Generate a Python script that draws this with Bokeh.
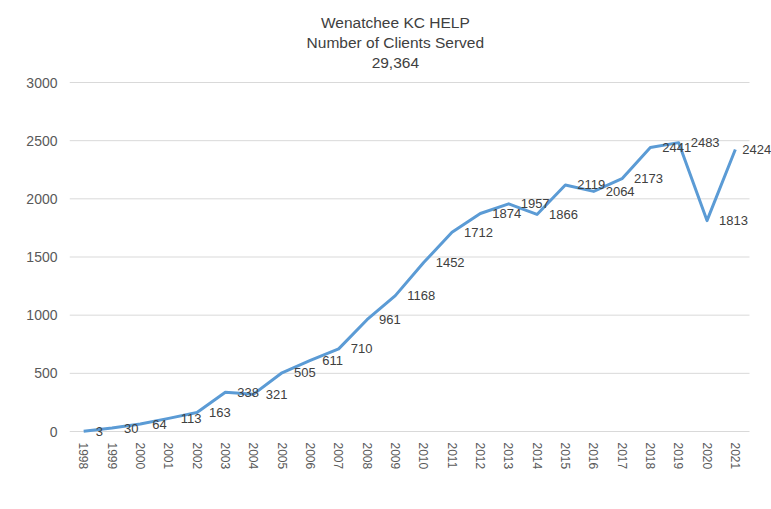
from bokeh.plotting import figure
from bokeh.models import Range1d, FixedTicker, Label, ColumnDataSource
from bokeh.embed import file_html
from bokeh.resources import INLINE
from bokeh.core.properties import value

years = ["1998", "1999", "2000", "2001", "2002", "2003", "2004", "2005", "2006", "2007",
         "2008", "2009", "2010", "2011", "2012", "2013", "2014", "2015", "2016", "2017",
         "2018", "2019", "2020", "2021"]
clients = [3, 30, 64, 113, 163, 338, 321, 505, 611, 710,
           961, 1168, 1452, 1712, 1874, 1957, 1866, 2119, 2064, 2173,
           2441, 2483, 1813, 2424]
y_ticks = [0, 500, 1000, 1500, 2000, 2500, 3000]
title_lines = ["Wenatchee KC HELP", "Number of Clients Served", "29,364"]

FONT = "Liberation Sans"
n = len(years)
idx = list(range(n))
# label offsets (styling): last label pulled in slightly so it stays on the page
offsets = [12] * (n - 1) + [7]
src = ColumnDataSource(dict(x=idx, y=clients, lab=[str(v) for v in clients], off=offsets))

# frame: left 69px, right 771px, top 0px, bottom 440px
px_per_cat = 680 / n            # categories span 69..749
px_per_unit = 349 / 3000        # 0 at y=431, 3000 at y=82
x_end = -0.5 + (771 - 69) / px_per_cat
y_end = 3000 + 82 / px_per_unit
y_start = -(440 - 431) / px_per_unit

p = figure(width=771, height=509, output_backend="svg", toolbar_location=None,
           x_range=Range1d(-0.5, x_end), y_range=Range1d(y_start, y_end),
           min_border_left=69, min_border_right=0, min_border_top=0, min_border_bottom=69)
p.outline_line_color = None
p.background_fill_color = "white"
p.border_fill_color = "white"

p.xgrid.grid_line_color = None
p.ygrid.grid_line_color = None

# horizontal gridlines limited to the category span
p.segment(x0=[-0.5] * len(y_ticks), x1=[n - 0.5] * len(y_ticks), y0=y_ticks, y1=y_ticks,
          line_color="#d9d9d9", line_width=1)

p.yaxis.ticker = FixedTicker(ticks=y_ticks)
p.xaxis.ticker = FixedTicker(ticks=idx)
p.xaxis.major_label_overrides = {i: y for i, y in zip(idx, years)}
p.xaxis.major_label_orientation = "vertical"

for ax in (p.xaxis, p.yaxis):
    ax.axis_line_color = None
    ax.major_tick_line_color = None
    ax.minor_tick_line_color = None
    ax.major_tick_out = 0
    ax.major_tick_in = 0
    ax.major_label_text_font = FONT
    ax.major_label_text_color = "#595959"
p.yaxis.major_label_text_font_size = "14px"
p.xaxis.major_label_text_font_size = "12px"
p.yaxis.major_label_standoff = 12
p.xaxis.major_label_standoff = 2

p.line("x", "y", source=src, line_color="#5B9BD5", line_width=3, line_join="round")
p.text("x", "y", text="lab", source=src, x_offset="off", text_align="left",
       text_baseline="middle", text_font=value(FONT), text_font_size="13px",
       text_color="#404040")

title_y = [3000 + (82 - 22) / px_per_unit, 3000 + (82 - 42) / px_per_unit,
           3000 + (82 - 62) / px_per_unit]
for t, ty in zip(title_lines, title_y):
    p.add_layout(Label(x=11.0, y=ty, text=t, text_align="center", text_baseline="middle",
                       text_font=FONT, text_font_size="15.5px", text_color="#404040"))

open("out.html", "w").write(file_html(p, INLINE))
